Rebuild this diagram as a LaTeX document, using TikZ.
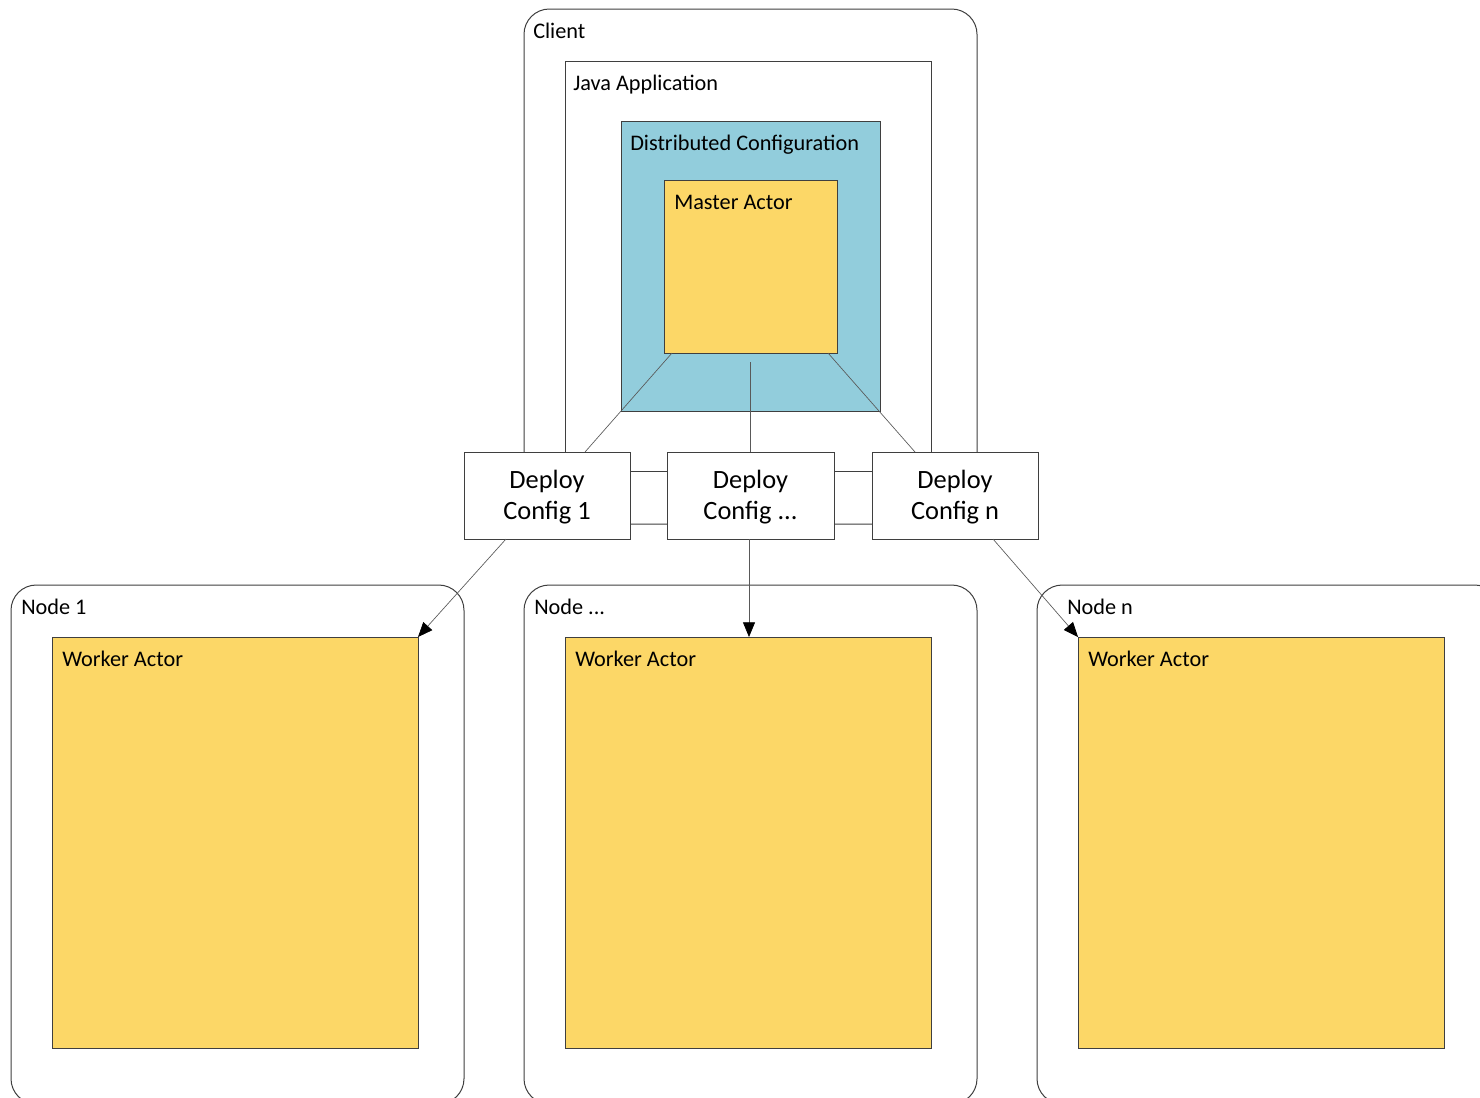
\documentclass[tikz,border=0pt]{standalone}
\usepackage{fontspec}
\setmainfont{Carlito}
\usetikzlibrary{arrows.meta}
\definecolor{edge}{HTML}{3F3F3F}
\definecolor{wire}{HTML}{595959}
\definecolor{teal}{HTML}{92CDDC}
\definecolor{actor}{HTML}{FCD767}
\tikzset{
  frame/.style={draw=edge, line width=0.75pt, rounded corners=19pt},
  plainbox/.style={draw=edge, line width=0.75pt},
  actorbox/.style={draw=edge, line width=0.75pt, fill=actor},
  configbox/.style={draw=edge, line width=0.75pt, fill=teal},
  deploybox/.style={draw=edge, line width=0.75pt, fill=white},
  lbl/.style={anchor=base west, inner sep=0pt, font=\fontsize{16.7}{20}\selectfont},
  dlbl/.style={align=center, inner sep=0pt, font=\fontsize{19.8}{23.4}\selectfont},
  wire/.style={draw=wire, line width=0.5pt},
  arrow/.style={wire, -{Triangle[length=11pt, width=9pt, color=black]}},
}
\begin{document}
\begin{tikzpicture}[x=0.75pt, y=-0.75pt]
\useasboundingbox (0,0) rectangle (1480,1097);
\clip (0,0) rectangle (1480,1097);

% client side containers
\draw[frame] (524,9) rectangle (977,524);
\draw[plainbox] (565,61) rectangle (931,471);
\draw[configbox] (621,121) rectangle (880,411);
\draw[actorbox] (664,180) rectangle (837,353);
\coordinate (mBL) at (672,353);
\coordinate (mC) at (750,362);
\coordinate (mBR) at (828,353);

\node[lbl] (client) at (533,38) {Client};
\node[lbl] (java) at (573,90) {Java Application};
\node[lbl] (dconf) at (630,150) {Distributed Configuration};
\node[lbl] (mlabel) at (674,209) {Master Actor};

% worker nodes
\draw[frame] (11,585) rectangle (464,1104);
\draw[frame] (524,585) rectangle (977,1104);
\draw[frame] (1037,585) rectangle (1500,1104);
\draw[actorbox] (52,637) rectangle (418,1048);
\draw[actorbox] (565,637) rectangle (931,1048);
\draw[actorbox] (1078,637) rectangle (1444,1048);
\coordinate (w1) at (418,637);
\coordinate (w2) at (749,637);
\coordinate (w3) at (1078,637);

\node[lbl] (n1) at (21,614) {Node 1};
\node[lbl] (n2) at (534,614) {Node ...};
\node[lbl] (n3) at (1067,614) {Node n};
\node[lbl] (wa1) at (62,666) {Worker Actor};
\node[lbl] (wa2) at (575,666) {Worker Actor};
\node[lbl] (wa3) at (1088,666) {Worker Actor};

% deploy configurations
\draw[deploybox] (464,452) rectangle (630,539);
\draw[deploybox] (667,452) rectangle (834,539);
\draw[deploybox] (872,452) rectangle (1038,539);
\node[dlbl] (d1) at (547,497) {Deploy\\Config 1};
\node[dlbl] (d2) at (750.5,497) {Deploy\\Config ...};
\node[dlbl] (d3) at (955,497) {Deploy\\Config n};
\coordinate (d1t) at (585,452);
\coordinate (d2t) at (750,452);
\coordinate (d3t) at (915,452);
\coordinate (d1b) at (506,539);
\coordinate (d2b) at (749,539);
\coordinate (d3b) at (993,539);

% connectors
\draw[wire] (mBL) -- (d1t);
\draw[wire] (mC) -- (d2t);
\draw[wire] (mBR) -- (d3t);
\draw[arrow] (d1b) -- (w1);
\draw[arrow] (d2b) -- (w2);
\draw[arrow] (d3b) -- (w3);
\end{tikzpicture}
\end{document}
